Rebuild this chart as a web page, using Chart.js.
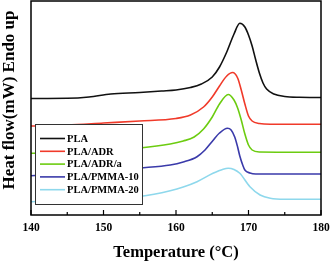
<!DOCTYPE html>
<html><head><meta charset="utf-8">
<script src="https://cdn.jsdelivr.net/npm/chart.js@4/dist/chart.umd.min.js"></script>
<style>html,body{margin:0;padding:0;background:#fff}#w{width:331px;height:263px}</style>
</head><body><div id="w"><canvas id="c"></canvas></div>
<script>
const seriesNames = ["PLA","PLA/ADR","PLA/ADR/a","PLA/PMMA-10","PLA/PMMA-20"];
const seriesColors = ["#111111","#f03a2a","#6ccc10","#3a3aaa","#8ed8ec"];
const xTicks = [140,150,160,170,180];
const yTitle = "Heat flow(mW) Endo up";
// Heat flow readings (arbitrary offset units, larger = lower on plot, reversed axis)
const plaT = [140,145,148,151,155,158,160,162,163.5,165,166,167,168,168.8,169.5,170,170.5,171,171.5,172,172.5,173.5,175,177,180];
const plaV = [98.5,98.3,97,94,92.5,91,90,87.5,84,77,67,52,34,23.3,27,35,46,60,73,83,89,94,96.5,97.3,97.5];
const adrT = [140,145,150,155,160,162,163.8,165,166,167,167.8,168.5,169,169.5,170,170.5,171.5,173,180];
const adrV = [126,125,123,121,118.5,115,107,97,86,76,72.5,78,90,104,116,121,123.5,124.3,124.3];
const adraT = [140,145,150,155,159.2,161,162.5,163.8,165,166,167.2,168,168.5,169,169.5,170,170.5,171.5,180];
const adraV = [153.3,152.5,150.5,148,144,141,137,129,117,104,94.5,100,108,120,134,145,150,152,152.3];
const pm10T = [140,145,150,155,159.2,161,162.9,164,165.1,166,167.1,167.6,168.1,168.5,168.8,169.2,169.5,170.2,171,180];
const pm10V = [175.7,173.5,171,168,165,162,156.7,150,140.5,133,128.3,130,137,147,156,165,170,173,174,174];
const pm20T = [140,145,150,155,159.2,161,162.9,165.1,166.5,167.2,168,168.8,170.2,171.6,173,175,180];
const pm20V = [201.7,200.5,199,196.5,190.7,187,181.7,173.3,169.2,168.3,169.5,173.3,186.7,195,198.3,199.3,199.3];

const allT = [plaT,adrT,adraT,pm10T,pm20T];
const allV = [plaV,adrV,adraV,pm10V,pm20V];

const datasets = seriesNames.map((n,i)=>({
  label:n,
  data: allT[i].map((t,j)=>({x:t,y:allV[i][j]})),
  borderColor: seriesColors[i],
  borderWidth:1.6,
  pointRadius:0,
  fill:false,
  cubicInterpolationMode:'monotone'
}));

const serif = "'Liberation Serif','Times New Roman',serif";

const framePlugin = {
  id:'frame',
  afterDraw(chart){
    const {ctx, chartArea:a, scales:{x}} = chart;
    ctx.save();
    ctx.strokeStyle='#000';
    ctx.lineWidth=1.5;
    ctx.strokeRect(a.left,a.top,a.right-a.left,a.bottom-a.top);
    ctx.lineWidth=1.2;
    for(let v=140; v<=180; v+=5){
      const px = x.getPixelForValue(v);
      const len = (v%10===0)?5:3;
      ctx.beginPath(); ctx.moveTo(px,a.bottom); ctx.lineTo(px,a.bottom-len); ctx.stroke();
    }
    const lx=35, ly=124, lw=107, lh=80;
    ctx.fillStyle='#fff';
    ctx.fillRect(lx,ly,lw,lh);
    ctx.strokeStyle='#333';
    ctx.lineWidth=1;
    ctx.strokeRect(lx+0.5,ly+0.5,lw,lh);
    ctx.font="bold 10.5px "+serif;
    ctx.textBaseline='middle';
    chart.data.datasets.forEach((d,i)=>{
      const yy = 138.5 + i*12.8;
      ctx.strokeStyle=d.borderColor; ctx.lineWidth=1.6;
      ctx.beginPath(); ctx.moveTo(40,yy); ctx.lineTo(65,yy); ctx.stroke();
      ctx.fillStyle='#000';
      ctx.fillText(d.label,67,yy+0.5);
    });
    ctx.translate(10,100);
    ctx.rotate(-Math.PI/2);
    ctx.font="bold 17px "+serif;
    ctx.textAlign='center';
    ctx.textBaseline='middle';
    ctx.fillStyle='#000';
    ctx.fillText(yTitle,0,0);
    ctx.restore();
  }
};

new Chart(document.getElementById('c'),{
  type:'line',
  data:{datasets},
  options:{
    responsive:true, maintainAspectRatio:false, animation:false,
    layout:{padding:{top:1,right:0,left:0,bottom:0}},
    plugins:{legend:{display:false},tooltip:{enabled:false}},
    scales:{
      x:{type:'linear',min:140,max:180,
        afterBuildTicks(s){ s.ticks = xTicks.map(v=>({value:v})); },
        afterFit(s){ s.height=48; s.paddingRight=10; s.paddingLeft=0; },
        grid:{display:false,drawTicks:false},
        border:{display:false},
        ticks:{padding:6,color:'#000',font:{family:serif,weight:'bold',size:11.5}},
        title:{display:true,text:'Temperature (°C)',color:'#000',padding:{top:4,bottom:0},font:{family:serif,weight:'bold',size:16.5}}
      },
      y:{type:'linear',reverse:true,min:1,max:215,
        afterFit(s){ s.width=31; },
        grid:{display:false,drawTicks:false},
        border:{display:false},
        ticks:{display:false},
        title:{display:false}
      }
    }
  },
  plugins:[framePlugin]
});
</script></body></html>
